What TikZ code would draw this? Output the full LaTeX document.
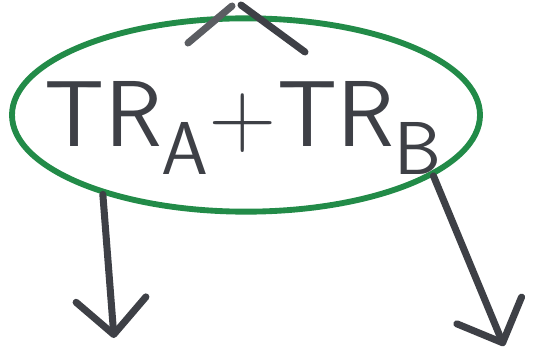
\documentclass[tikz,border=0pt]{standalone}
\usepackage{tikz}
\usetikzlibrary{arrows.meta, shapes.geometric, positioning}
\definecolor{pengreen}{RGB}{34,139,72}
\definecolor{pengray}{RGB}{62,64,70}

\begin{document}
\begin{tikzpicture}[
    x=0.03cm,
    y=-0.03cm,
    >={Straight Barb[length=1.05cm, width=2.1cm, line cap=round, line join=round]},
    ring/.style={
        ellipse,
        draw=pengreen,
        line width=5pt,
        minimum width=14.04cm,
        minimum height=5.8cm,
        inner sep=0pt
    },
    sumtext/.style={
        text=pengray,
        font=\fontsize{80}{80}\selectfont\sffamily,
        inner sep=0pt
    },
    stroke/.style={
        draw=pengray,
        line width=6pt,
        line cap=round
    }
]

\useasboundingbox (0,0) rectangle (546,364);

% Ellipse and sum
\node[ring] (ring) at (246,115) {};
\node[sumtext] (sum) at (243,128) {TR\raisebox{-0.3em}{\scalebox{0.8}{A}}+TR\raisebox{-0.3em}{\scalebox{0.8}{B}}};

% Caret on top
\coordinate (capl) at (188,43);
\coordinate (capt) at (232,6);
\coordinate (capu) at (241,5);
\coordinate (capr) at (305,52);
\draw[stroke, draw=pengray!85] (capl) -- (capt);
\draw[stroke] (capu) -- (capr);

% Arrows down
\coordinate (outa) at (114,338);
\coordinate (outb) at (504,346);
\draw[stroke, ->] (ring.209) -- (outa);
\draw[stroke, ->] (ring.-18) -- (outb);

\end{tikzpicture}
\end{document}
